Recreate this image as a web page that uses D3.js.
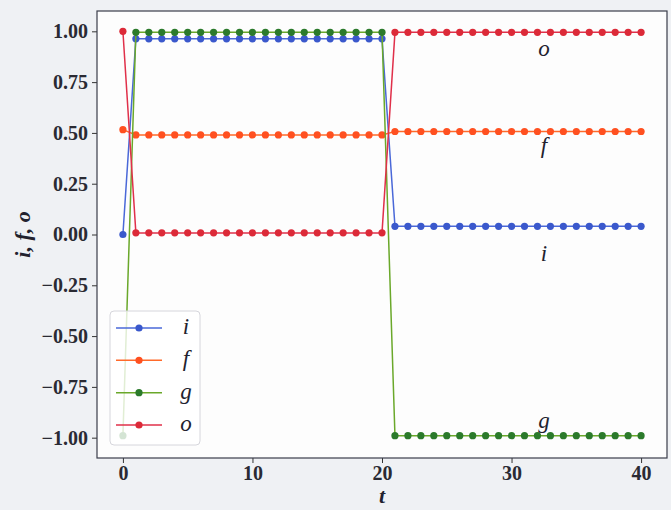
<!DOCTYPE html>
<html><head><meta charset="utf-8">
<script src="https://cdn.jsdelivr.net/npm/d3@7"></script>
<style>
html,body{margin:0;padding:0;background:#eff1f4;}
svg{display:block;}
</style></head>
<body>
<svg id="chart" width="671" height="510"></svg>
<script>
// ---- data ----
const t = d3.range(0, 41);
const seriesNames = ["i", "f", "g", "o"];
const iVals = [0.00].concat(Array(20).fill(0.963), Array(20).fill(0.04));
const fVals = [0.516].concat(Array(20).fill(0.49), Array(20).fill(0.507));
const gVals = [-0.99].concat(Array(20).fill(0.995), Array(20).fill(-0.99));
const oVals = [1.00].concat(Array(20).fill(0.008), Array(20).fill(0.995));
const seriesColors = ["#3a58cc", "#ff5020", "#2b7a2b", "#dc2a38"];
const lineColors = ["#4a68d8", "#ff6a2a", "#6aa82a", "#e0304a"];
const yTicks = [-1.0, -0.75, -0.5, -0.25, 0, 0.25, 0.5, 0.75, 1.0];
const xTicks = [0, 10, 20, 30, 40];
const annLabels = ["o", "f", "i", "g"];
const annT = [32.5, 32.5, 32.5, 32.5];
const annY = [0.88, 0.40, -0.13, -0.95];

const seriesVals = [iVals, fVals, gVals, oVals];

// ---- layout ----
const svg = d3.select("#chart");
const L = 97, R = 667, T = 11, B = 458;
const x = d3.scaleLinear().domain([-2, 42]).range([L, R]);
const y = d3.scaleLinear().domain([-1.1, 1.1]).range([B, T]);
const serif = "'Liberation Serif','DejaVu Serif',serif";

svg.append("rect").attr("x", L).attr("y", T).attr("width", R - L).attr("height", B - T)
  .attr("fill", "#fdfdfd");

const fmt = v => (v < 0 ? "\u2212" : "") + Math.abs(v).toFixed(2);

const yAxis = svg.append("g").attr("transform", `translate(${L},0)`)
  .call(d3.axisLeft(y).tickValues(yTicks).tickFormat(fmt).tickSize(5).tickPadding(4));
const xAxis = svg.append("g").attr("transform", `translate(0,${B})`)
  .call(d3.axisBottom(x).tickValues(xTicks).tickFormat(d3.format("d")).tickSize(5).tickPadding(3));
[yAxis, xAxis].forEach(a => {
  a.select(".domain").remove();
  a.selectAll("line").attr("stroke", "#333").attr("stroke-width", 1);
  a.selectAll("text").attr("font-family", serif).attr("font-size", 20)
    .attr("fill", "#2a2a33").attr("font-weight", "bold");
});

// plot frame
svg.append("rect").attr("x", L).attr("y", T).attr("width", R - L).attr("height", B - T)
  .attr("fill", "none").attr("stroke", "#3a3d4a").attr("stroke-width", 1.2);

// series
const line = d3.line().x((d, k) => x(t[k])).y(d => y(d));
seriesVals.forEach((vals, s) => {
  const g = svg.append("g");
  g.append("path").datum(vals).attr("d", line).attr("fill", "none")
    .attr("stroke", lineColors[s]).attr("stroke-width", 1.5);
  g.selectAll("circle").data(vals).join("circle")
    .attr("cx", (d, k) => x(t[k])).attr("cy", d => y(d)).attr("r", 3.6)
    .attr("fill", seriesColors[s]);
});

// annotations
svg.selectAll("text.ann").data(annLabels).join("text").attr("class", "ann")
  .attr("x", (d, k) => x(annT[k])).attr("y", (d, k) => y(annY[k]))
  .attr("text-anchor", "middle").attr("font-family", serif).attr("font-style", "italic")
  .attr("font-size", 23).attr("fill", "#22222e").text(d => d);

// axis labels
svg.append("text").attr("x", x(20)).attr("y", 503).attr("text-anchor", "middle")
  .attr("font-family", serif).attr("font-style", "italic").attr("font-weight", "bold")
  .attr("font-size", 22).attr("fill", "#22222e").text("t");
svg.append("text").attr("transform", `translate(30,${(T + B) / 2}) rotate(-90)`)
  .attr("text-anchor", "middle").attr("font-family", serif).attr("font-style", "italic")
  .attr("font-weight", "bold").attr("font-size", 22).attr("fill", "#22222e").text("i, f, o");

// legend
const lg = svg.append("g");
lg.append("rect").attr("x", 110).attr("y", 311).attr("width", 90).attr("height", 134)
  .attr("rx", 4).attr("fill", "#ffffff").attr("fill-opacity", 0.8)
  .attr("stroke", "#d6d6dc").attr("stroke-width", 1);
const legY = d3.scalePoint().domain(seriesNames).range([328, 425]);
seriesNames.forEach((n, s) => {
  const yy = legY(n);
  lg.append("line").attr("x1", 116).attr("x2", 162).attr("y1", yy).attr("y2", yy)
    .attr("stroke", lineColors[s]).attr("stroke-width", 1.5);
  lg.append("circle").attr("cx", 139).attr("cy", yy).attr("r", 3.6).attr("fill", seriesColors[s]);
  lg.append("text").attr("x", 186).attr("y", yy + 6).attr("text-anchor", "middle")
    .attr("font-family", serif).attr("font-style", "italic").attr("font-size", 23)
    .attr("fill", "#22222e").text(n);
});
</script>
</body></html>
